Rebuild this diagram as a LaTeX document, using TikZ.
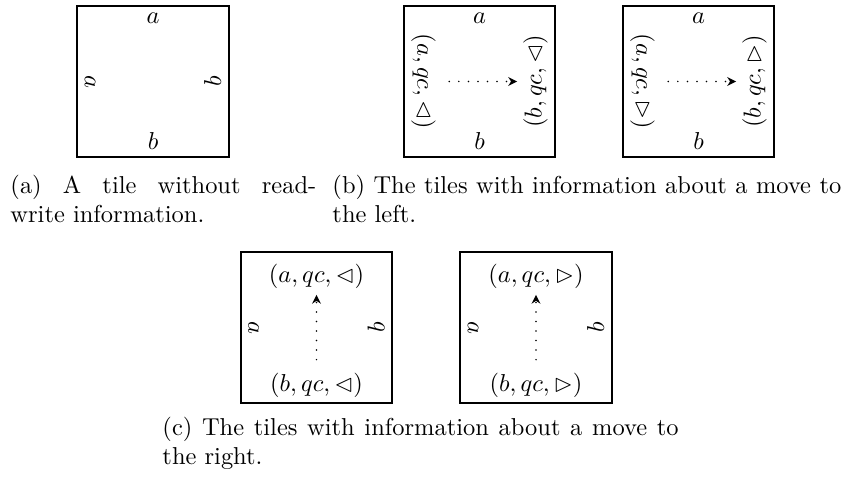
\documentclass[tikz,border=0pt]{standalone}
\usepackage{amssymb}
\usetikzlibrary{positioning,arrows.meta}
\tikzset{
  tile/.style={draw, thick, minimum width=62pt, minimum height=62pt, inner sep=0pt},
  lbl/.style={inner sep=3.33pt},
  move/.style={-{Stealth[length=3.6pt,width=3.6pt]}, line width=0.7pt, line cap=round,
               dash pattern=on 0pt off 3.9pt, shorten <=2pt, shorten >=-1pt},
  capt/.style={anchor=north west, inner sep=0pt, align=justify},
}
\begin{document}
\begin{tikzpicture}[x=0.4088pt, y=0.4088pt]
  \useasboundingbox (0,0) rectangle (844,477);
  % tiles
  \node[tile] (ta)  at (153,395.5) {};
  \node[tile] (tb1) at (479.5,395.5) {};
  \node[tile] (tb2) at (698.5,395.5) {};
  \node[tile] (tc1) at (316.5,149.5) {};
  \node[tile] (tc2) at (536,149.5) {};
  % plain edges
  \foreach \t in {ta,tb1,tb2} {
    \node[lbl, below=0pt of \t.north] {$a$};
    \node[lbl, above=0pt of \t.south] {$b$};
  }
  \foreach \t in {ta,tc1,tc2} {
    \node[lbl, rotate=-90, anchor=south] at (\t.west) {$a$};
    \node[lbl, rotate=90, anchor=south] at (\t.east) {$b$};
  }
  % moves to the left
  \node[lbl, rotate=-90, anchor=south] (lb1) at (tb1.west) {$(a,qc,\lhd)$};
  \node[lbl, rotate=90, anchor=south]  (rb1) at (tb1.east) {$(b,qc,\lhd)$};
  \node[lbl, rotate=-90, anchor=south] (lb2) at (tb2.west) {$(a,qc,\rhd)$};
  \node[lbl, rotate=90, anchor=south]  (rb2) at (tb2.east) {$(b,qc,\rhd)$};
  \draw[move] (lb1) -- (rb1);
  \draw[move] (lb2) -- (rb2);
  % moves to the right
  \node[lbl, below=2pt of tc1.north]  (uc1) {$(a,qc,\lhd)$};
  \node[lbl, above=-0.8pt of tc1.south] (dc1) {$(b,qc,\lhd)$};
  \node[lbl, below=2pt of tc2.north]  (uc2) {$(a,qc,\rhd)$};
  \node[lbl, above=-0.8pt of tc2.south] (dc2) {$(b,qc,\rhd)$};
  \draw[move] (dc1) -- (uc1);
  \draw[move] (dc2) -- (uc2);
  % captions
  \node[capt, text width=125pt] (capa) at (10,302.3)
    {(a) A tile without read-\linebreak write information.};
  \node[capt, text width=208pt] (capb) at (332,302.3)
    {(b) The tiles with information about a move to the left.};
  \node[capt, text width=211pt] (capc) at (162,60.3)
    {(c) The tiles with information about a move to the right.};
\end{tikzpicture}
\end{document}
